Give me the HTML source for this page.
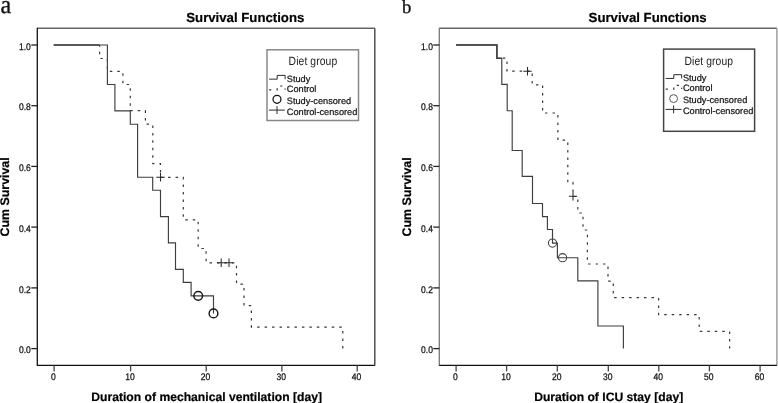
<!DOCTYPE html>
<html><head><meta charset="utf-8"><style>
html,body{margin:0;padding:0;background:#fff;width:778px;height:403px;overflow:hidden}
svg{display:block;will-change:transform}
text{font-family:"Liberation Sans", sans-serif;text-rendering:geometricPrecision}
.lab{font-family:"Liberation Serif", serif}
</style></head><body>
<svg width="778" height="403" viewBox="0 0 778 403">
<rect width="778" height="403" fill="#fff"/>
<text class="lab" transform="translate(0.5,13.1) scale(0.93,0.99)" font-size="26" fill="#111" stroke="#111" stroke-width="0.35">a</text>
<text class="lab" transform="translate(401.9,13.2)" font-size="18.7" fill="#111" stroke="#111" stroke-width="0.3">b</text>
<line x1="37.3" y1="28.3" x2="374.8" y2="28.3" stroke="#666" stroke-width="1.4"/>
<line x1="374.8" y1="28.3" x2="374.8" y2="365.4" stroke="#444" stroke-width="1.4"/>
<line x1="37.3" y1="27.7" x2="37.3" y2="366.0" stroke="#111" stroke-width="1.3"/>
<line x1="37.3" y1="365.4" x2="374.8" y2="365.4" stroke="#111" stroke-width="1.3"/>
<line x1="31.3" y1="45.0" x2="37.3" y2="45.0" stroke="#222" stroke-width="1.3"/>
<text transform="translate(30.80,49.60) scale(0.89,1)" text-anchor="end" font-size="9.6" fill="#111" stroke="#111" stroke-width="0.25">1.0</text>
<line x1="31.3" y1="105.7" x2="37.3" y2="105.7" stroke="#222" stroke-width="1.3"/>
<text transform="translate(30.80,110.30) scale(0.89,1)" text-anchor="end" font-size="9.6" fill="#111" stroke="#111" stroke-width="0.25">0.8</text>
<line x1="31.3" y1="166.4" x2="37.3" y2="166.4" stroke="#222" stroke-width="1.3"/>
<text transform="translate(30.80,171.00) scale(0.89,1)" text-anchor="end" font-size="9.6" fill="#111" stroke="#111" stroke-width="0.25">0.6</text>
<line x1="31.3" y1="227.1" x2="37.3" y2="227.1" stroke="#222" stroke-width="1.3"/>
<text transform="translate(30.80,231.70) scale(0.89,1)" text-anchor="end" font-size="9.6" fill="#111" stroke="#111" stroke-width="0.25">0.4</text>
<line x1="31.3" y1="287.9" x2="37.3" y2="287.9" stroke="#222" stroke-width="1.3"/>
<text transform="translate(30.80,292.50) scale(0.89,1)" text-anchor="end" font-size="9.6" fill="#111" stroke="#111" stroke-width="0.25">0.2</text>
<line x1="31.3" y1="348.6" x2="37.3" y2="348.6" stroke="#222" stroke-width="1.3"/>
<text transform="translate(30.80,353.20) scale(0.89,1)" text-anchor="end" font-size="9.6" fill="#111" stroke="#111" stroke-width="0.25">0.0</text>
<line x1="54.1" y1="365.4" x2="54.1" y2="371.4" stroke="#444" stroke-width="1.3"/>
<text transform="translate(53.50,380.40) scale(0.89,1)" text-anchor="middle" font-size="9.6" fill="#111" stroke="#111" stroke-width="0.25">0</text>
<line x1="130.6" y1="365.4" x2="130.6" y2="371.4" stroke="#444" stroke-width="1.3"/>
<text transform="translate(130.00,380.40) scale(0.89,1)" text-anchor="middle" font-size="9.6" fill="#111" stroke="#111" stroke-width="0.25">10</text>
<line x1="206.2" y1="365.4" x2="206.2" y2="371.4" stroke="#444" stroke-width="1.3"/>
<text transform="translate(205.60,380.40) scale(0.89,1)" text-anchor="middle" font-size="9.6" fill="#111" stroke="#111" stroke-width="0.25">20</text>
<line x1="281.9" y1="365.4" x2="281.9" y2="371.4" stroke="#444" stroke-width="1.3"/>
<text transform="translate(281.30,380.40) scale(0.89,1)" text-anchor="middle" font-size="9.6" fill="#111" stroke="#111" stroke-width="0.25">30</text>
<line x1="357.2" y1="365.4" x2="357.2" y2="371.4" stroke="#444" stroke-width="1.3"/>
<text transform="translate(356.60,380.40) scale(0.89,1)" text-anchor="middle" font-size="9.6" fill="#111" stroke="#111" stroke-width="0.25">40</text>
<text x="186.3" y="22" font-size="13.2" font-weight="bold" fill="#000" stroke="#000" stroke-width="0.2">Survival Functions</text>
<text x="206.65" y="400.8" text-anchor="middle" font-size="12.15" font-weight="bold" fill="#000" stroke="#000" stroke-width="0.2">Duration of mechanical ventilation [day]</text>
<text transform="translate(8.6,196.9) rotate(-90)" text-anchor="middle" font-size="12.4" font-weight="bold" fill="#000" stroke="#000" stroke-width="0.2">Cum Survival</text>
<path d="M99.6 45V58.5H107.4V71.4H122.9V84.5H130.3V110.7H145.4V124.2H152.8V163.6H160.5V177.3H183.3V219.8H198.2V248.5H206.1V262.8H236.5V284.1H244V305.6H251.4V327.1H342.8V348.6" fill="none" stroke="#383838" stroke-width="1.2" stroke-dasharray="2.5 4.963" stroke-dashoffset="0.696"/>
<path d="M53.7 45H107.4V84.5H114.9V110.8H130.3V124.2H137.6V177.2H152.7V190.2H160.5V216.6H168.4V242.9H175.5V269.3H183.3V282.4H191.1V295.8H213.5V313.4" fill="none" stroke="#3e3e3e" stroke-width="1.15"/>
<path d="M53.7 45H99.6" fill="none" stroke="#404040" stroke-width="1.5"/>
<circle cx="198.2" cy="295.8" r="4.35" stroke="#1a1a1a" stroke-width="1.45" fill="none"/>
<circle cx="213.5" cy="313.4" r="4.35" stroke="#1a1a1a" stroke-width="1.45" fill="none"/>
<path d="M156.3 177.3H164.7M160.5 173.0V181.60000000000002" stroke="#2a2a2a" stroke-width="1.05"/>
<path d="M217.0 262.8H225.39999999999998M221.2 258.5V267.1" stroke="#2a2a2a" stroke-width="1.05"/>
<path d="M224.8 262.8H233.2M229 258.5V267.1" stroke="#2a2a2a" stroke-width="1.05"/>
<rect x="267.0" y="49.8" width="91.5" height="70.7" fill="#fff" stroke="#888" stroke-width="1.5"/>
<text transform="translate(288.60,65.40) scale(0.86,1)" font-size="12" letter-spacing="0.12" fill="#222">Diet group</text>
<text x="286.80" y="81.50" font-size="9.2" fill="#111" stroke="#111" stroke-width="0.22">Study</text>
<text x="286.80" y="91.90" font-size="9.2" fill="#111" stroke="#111" stroke-width="0.22">Control</text>
<text x="286.80" y="103.90" font-size="9.2" fill="#111" stroke="#111" stroke-width="0.22">Study-censored</text>
<text x="286.80" y="114.90" font-size="9.2" fill="#111" stroke="#111" stroke-width="0.22">Control-censored</text>
<path d="M269.10 79.15H277.20V75.40H285.10V79.15" fill="none" stroke="#2a2a2a" stroke-width="1.0"/>
<path d="M269.10 89.80H277.20V86.00H285.10V89.80" fill="none" stroke="#333" stroke-width="1.2" stroke-dasharray="2.2 5.26" stroke-dashoffset="0.05"/>
<circle cx="277.00" cy="99.30" r="3.95" fill="none" stroke="#111" stroke-width="1.25"/>
<path d="M268.90 110.10H284.90M277.00 106.20V114.00" stroke="#2a2a2a" stroke-width="1.0"/>
<line x1="439.3" y1="28.3" x2="776.9" y2="28.3" stroke="#666" stroke-width="1.4"/>
<line x1="776.9" y1="28.3" x2="776.9" y2="365.4" stroke="#999" stroke-width="1.4"/>
<line x1="439.3" y1="27.7" x2="439.3" y2="366.0" stroke="#777" stroke-width="1.3"/>
<line x1="439.3" y1="365.4" x2="776.9" y2="365.4" stroke="#111" stroke-width="1.3"/>
<line x1="433.3" y1="45.0" x2="439.3" y2="45.0" stroke="#222" stroke-width="1.3"/>
<text transform="translate(433.00,49.60) scale(0.89,1)" text-anchor="end" font-size="9.6" fill="#111" stroke="#111" stroke-width="0.25">1.0</text>
<line x1="433.3" y1="105.7" x2="439.3" y2="105.7" stroke="#222" stroke-width="1.3"/>
<text transform="translate(433.00,110.30) scale(0.89,1)" text-anchor="end" font-size="9.6" fill="#111" stroke="#111" stroke-width="0.25">0.8</text>
<line x1="433.3" y1="166.4" x2="439.3" y2="166.4" stroke="#222" stroke-width="1.3"/>
<text transform="translate(433.00,171.00) scale(0.89,1)" text-anchor="end" font-size="9.6" fill="#111" stroke="#111" stroke-width="0.25">0.6</text>
<line x1="433.3" y1="227.1" x2="439.3" y2="227.1" stroke="#222" stroke-width="1.3"/>
<text transform="translate(433.00,231.70) scale(0.89,1)" text-anchor="end" font-size="9.6" fill="#111" stroke="#111" stroke-width="0.25">0.4</text>
<line x1="433.3" y1="287.9" x2="439.3" y2="287.9" stroke="#222" stroke-width="1.3"/>
<text transform="translate(433.00,292.50) scale(0.89,1)" text-anchor="end" font-size="9.6" fill="#111" stroke="#111" stroke-width="0.25">0.2</text>
<line x1="433.3" y1="348.6" x2="439.3" y2="348.6" stroke="#222" stroke-width="1.3"/>
<text transform="translate(433.00,353.20) scale(0.89,1)" text-anchor="end" font-size="9.6" fill="#111" stroke="#111" stroke-width="0.25">0.0</text>
<line x1="456.1" y1="365.4" x2="456.1" y2="371.4" stroke="#444" stroke-width="1.3"/>
<text transform="translate(455.50,380.40) scale(0.89,1)" text-anchor="middle" font-size="9.6" fill="#111" stroke="#111" stroke-width="0.25">0</text>
<line x1="506.6" y1="365.4" x2="506.6" y2="371.4" stroke="#444" stroke-width="1.3"/>
<text transform="translate(506.00,380.40) scale(0.89,1)" text-anchor="middle" font-size="9.6" fill="#111" stroke="#111" stroke-width="0.25">10</text>
<line x1="557.3" y1="365.4" x2="557.3" y2="371.4" stroke="#444" stroke-width="1.3"/>
<text transform="translate(556.70,380.40) scale(0.89,1)" text-anchor="middle" font-size="9.6" fill="#111" stroke="#111" stroke-width="0.25">20</text>
<line x1="608.3" y1="365.4" x2="608.3" y2="371.4" stroke="#444" stroke-width="1.3"/>
<text transform="translate(607.70,380.40) scale(0.89,1)" text-anchor="middle" font-size="9.6" fill="#111" stroke="#111" stroke-width="0.25">30</text>
<line x1="658.8" y1="365.4" x2="658.8" y2="371.4" stroke="#444" stroke-width="1.3"/>
<text transform="translate(658.20,380.40) scale(0.89,1)" text-anchor="middle" font-size="9.6" fill="#111" stroke="#111" stroke-width="0.25">40</text>
<line x1="709.4" y1="365.4" x2="709.4" y2="371.4" stroke="#444" stroke-width="1.3"/>
<text transform="translate(708.80,380.40) scale(0.89,1)" text-anchor="middle" font-size="9.6" fill="#111" stroke="#111" stroke-width="0.25">50</text>
<line x1="760.1" y1="365.4" x2="760.1" y2="371.4" stroke="#444" stroke-width="1.3"/>
<text transform="translate(759.50,380.40) scale(0.89,1)" text-anchor="middle" font-size="9.6" fill="#111" stroke="#111" stroke-width="0.25">60</text>
<text x="588.6" y="22" font-size="13.2" font-weight="bold" fill="#000" stroke="#000" stroke-width="0.2">Survival Functions</text>
<text x="608.70" y="400.8" text-anchor="middle" font-size="12.15" font-weight="bold" fill="#000" stroke="#000" stroke-width="0.2">Duration of ICU stay [day]</text>
<text transform="translate(411.0,196.9) rotate(-90)" text-anchor="middle" font-size="12.4" font-weight="bold" fill="#000" stroke="#000" stroke-width="0.2">Cum Survival</text>
<path d="M501.8 58.2H507V71.2H532.2V84.8H542.6V113H557.9V140.2H567.8V182.3H573V196.5H577.8V213H583V230H587.4V264H608V281.2H613.3V297.6H658.6V314.7H699.2V331.3H729.6V348.6" fill="none" stroke="#383838" stroke-width="1.2" stroke-dasharray="2.5 4.963" stroke-dashoffset="6.466"/>
<path d="M456.1 44.9H496.9V58.2H501.8V84.4H507.2V110.7H512.2V150.5H522.2V176.4H532.5V203.5H542.5V216.6H547.4V229.5H552.5V243.1H557.4V257.7H577.8V280.8H597.9V326H623.4V348.6" fill="none" stroke="#3e3e3e" stroke-width="1.15"/>
<path d="M456.1 44.9H496.9V58.2H501.8" fill="none" stroke="#404040" stroke-width="1.5"/>
<circle cx="552.5" cy="243.1" r="4.1" stroke="#444" stroke-width="1.05" fill="none"/>
<circle cx="562.6" cy="257.7" r="4.1" stroke="#444" stroke-width="1.05" fill="none"/>
<path d="M523.3 71.2H531.7M527.5 66.9V75.5" stroke="#2a2a2a" stroke-width="1.05"/>
<path d="M568.8 196.3H577.2M573 192.0V200.60000000000002" stroke="#2a2a2a" stroke-width="1.05"/>
<rect x="663.6" y="49.1" width="91.0" height="82.2" fill="#fff" stroke="#444" stroke-width="1.5"/>
<text transform="translate(684.50,64.70) scale(0.86,1)" font-size="12" letter-spacing="0.12" fill="#222">Diet group</text>
<text x="682.90" y="80.80" font-size="9.2" fill="#111" stroke="#111" stroke-width="0.22">Study</text>
<text x="682.90" y="91.20" font-size="9.2" fill="#111" stroke="#111" stroke-width="0.22">Control</text>
<text x="682.90" y="103.20" font-size="9.2" fill="#111" stroke="#111" stroke-width="0.22">Study-censored</text>
<text x="682.90" y="114.20" font-size="9.2" fill="#111" stroke="#111" stroke-width="0.22">Control-censored</text>
<path d="M665.70 78.45H673.80V74.70H681.70V78.45" fill="none" stroke="#2a2a2a" stroke-width="1.0"/>
<path d="M665.70 89.10H673.80V85.30H681.70V89.10" fill="none" stroke="#333" stroke-width="1.2" stroke-dasharray="2.2 5.26" stroke-dashoffset="0.05"/>
<circle cx="673.60" cy="98.60" r="3.95" fill="none" stroke="#555" stroke-width="1.0"/>
<path d="M665.50 109.40H681.50M673.60 105.50V113.30" stroke="#2a2a2a" stroke-width="1.0"/>
</svg>
</body></html>
